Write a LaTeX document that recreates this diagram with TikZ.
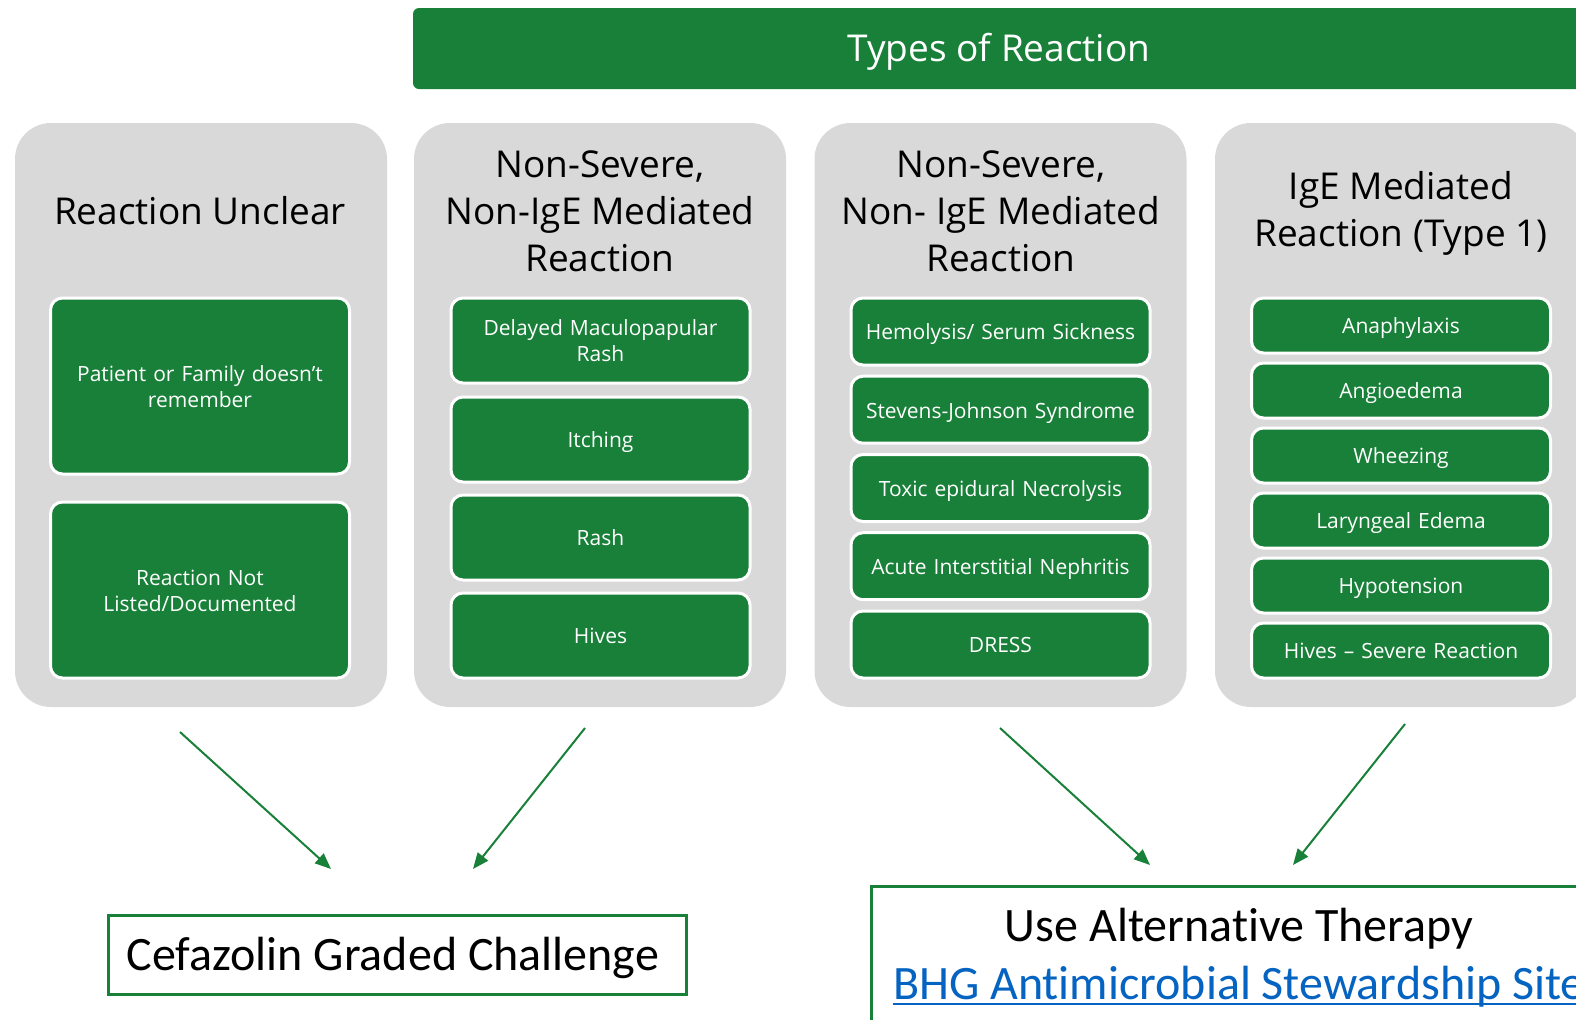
\documentclass[tikz,border=0pt]{standalone}
\usepackage{fontspec}
\setmainfont{Open Sans}
\newfontfamily\calibri[Ligatures={NoCommon}]{Carlito}
\usetikzlibrary{arrows.meta}
\definecolor{grn}{RGB}{24,128,56}
\definecolor{panelgray}{RGB}{217,217,217}
\definecolor{linkblue}{RGB}{5,99,193}
\begin{document}
\begin{tikzpicture}[x=0.5pt,y=-0.5pt,
 panel/.style={fill=panelgray, rounded corners=18pt, minimum width=186pt, minimum height=292pt, inner sep=0pt},
 item/.style={fill=grn, draw=white, line width=1.5pt, rounded corners=6pt, minimum width=149.5pt, text=white, font=\fontsize{10.5}{13}\selectfont, align=center, inner sep=0pt, text width=140pt,
   execute at begin node={\rule{0pt}{11pt}}, execute at end node={\vphantom{g}}},
 ptitle/.style={font=\fontsize{18.5}{23.5}\selectfont, align=center, inner sep=0pt},
 outbox/.style={draw=grn, line width=1.5pt, fill=white, inner sep=0pt},
 bigtxt/.style={font=\calibri\fontsize{24}{28}\selectfont, inner sep=0pt},
 arr/.style={draw=grn, line width=1pt, -{Triangle[length=8pt,width=6.5pt]}}
]
\path[use as bounding box, clip] (0,0) rectangle (1576,1019);

% banner
\node[fill=grn, rounded corners=3pt, minimum width=586pt, minimum height=40.5pt, inner sep=0pt, text=white, font=\fontsize{18.5}{22}\selectfont,
  execute at begin node={\rule{0pt}{17pt}}] (banner) at (999,48.5) {Types of Reaction};

% panels
\node[panel] (p1) at (201,415) {};
\node[panel] (p2) at (600,415) {};
\node[panel] (p3) at (1000.5,415) {};
\node[panel] (p4) at (1401,415) {};

% titles
\node[ptitle] (t1) at (200,211) {Reaction Unclear};
\node[ptitle] (t2) at (600,211) {Non-Severe,\\Non-IgE Mediated\\Reaction};
\node[ptitle] (t3) at (1001,211) {Non-Severe,\\Non- IgE Mediated\\Reaction};
\node[ptitle] (t4) at (1401,213.5) {IgE Mediated\\Reaction (Type 1)};

% panel 1 items
\node[item, minimum height=88pt] (i11) at (200,386) {Patient or Family doesn’t\\remember};
\node[item, minimum height=88pt] (i12) at (200,590) {Reaction Not\\Listed/Documented};

% panel 2 items
\node[item, minimum height=42.5pt] (i21) at (600.5,340.5) {Delayed Maculopapular\\Rash};
\node[item, minimum height=42.5pt] (i22) at (600.5,439.5) {Itching};
\node[item, minimum height=42.5pt] (i23) at (600.5,537.5) {Rash};
\node[item, minimum height=42.5pt] (i24) at (600.5,635.5) {Hives};

% panel 3 items
\node[item, minimum height=33.5pt] (i31) at (1000.5,331.5) {Hemolysis/ Serum Sickness};
\node[item, minimum height=33.5pt] (i32) at (1000.5,409.7) {Stevens-Johnson Syndrome};
\node[item, minimum height=33.5pt] (i33) at (1000.5,488) {Toxic epidural Necrolysis};
\node[item, minimum height=33.5pt] (i34) at (1000.5,566.2) {Acute Interstitial Nephritis};
\node[item, minimum height=33.5pt] (i35) at (1000.5,644.5) {DRESS};

% panel 4 items
\node[item, minimum height=27.5pt] (i41) at (1401,325.5) {Anaphylaxis};
\node[item, minimum height=27.5pt] (i42) at (1401,390.5) {Angioedema};
\node[item, minimum height=27.5pt] (i43) at (1401,455.5) {Wheezing};
\node[item, minimum height=27.5pt] (i44) at (1401,520.5) {Laryngeal Edema};
\node[item, minimum height=27.5pt] (i45) at (1401,585.5) {Hypotension};
\node[item, minimum height=27.5pt] (i46) at (1401,650.5) {Hives – Severe Reaction};

% outcome boxes
\node[outbox, minimum width=289pt, minimum height=39.5pt] (cef) at (397,954.5) {};
\node[bigtxt] (ceft) at (393,957.5) {Cefazolin Graded Challenge};

\node[outbox, anchor=north west, minimum width=369pt, minimum height=100pt] (alt) at (870,885) {};
\node[bigtxt] (altt) at (1239,929) {Use Alternative Therapy};
\node[bigtxt, text=linkblue] (link) at (1239,987) {BHG Antimicrobial Stewardship Site};
\draw[linkblue, line width=1pt] ([yshift=-2pt]link.base west) -- ([yshift=-2pt]link.base east);

% arrows
\coordinate (a1s) at (180,732);
\coordinate (a1e) at (331,869);
\coordinate (a2s) at (585,728);
\coordinate (a2e) at (473,869);
\coordinate (a3s) at (1000,728);
\coordinate (a3e) at (1150,865);
\coordinate (a4s) at (1405,724);
\coordinate (a4e) at (1293,865);
\draw[arr] (a1s) -- (a1e);
\draw[arr] (a2s) -- (a2e);
\draw[arr] (a3s) -- (a3e);
\draw[arr] (a4s) -- (a4e);
\end{tikzpicture}
\end{document}
